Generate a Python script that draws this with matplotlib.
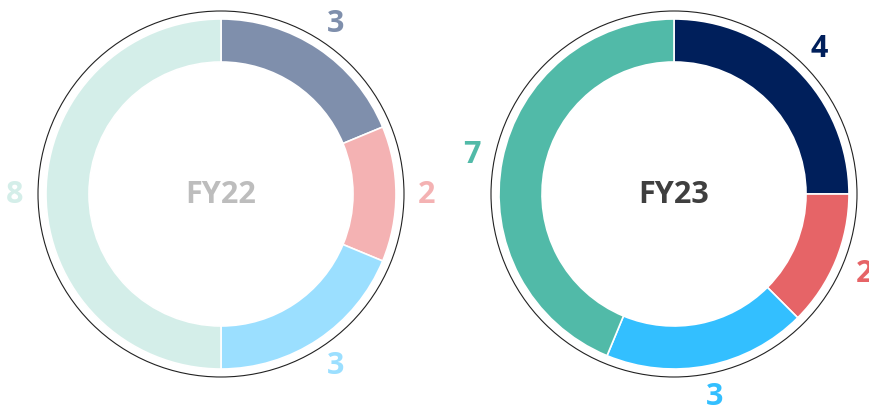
import numpy as np
import matplotlib
matplotlib.use("Agg")
import matplotlib.pyplot as plt
from matplotlib.patches import Circle

plt.rcParams["font.family"] = ["Open Sans", "DejaVu Sans"]

# ---- data ----
years = ["FY22", "FY23"]
fy22_values = [3, 2, 3, 8]
fy23_values = [4, 2, 3, 7]
fy22_colors = ["#7F8FAC", "#F4B2B3", "#9BDFFF", "#D4EEE9"]
fy23_colors = ["#001F5B", "#E66467", "#33BFFF", "#51BAA8"]
title_colors = ["#BDBDBD", "#3F3F3F"]

# layout in pixels (figure is 869 x 410)
W, H = 869, 410
centers = [(221, H - 195), (674, H - 195)]
R = 175
RING = 43
R_OUTLINE = 183
R_LABEL = 206

fig = plt.figure(figsize=(W / 100, H / 100), dpi=100)
ax = fig.add_axes([0, 0, 1, 1])

for name, vals, cols, tcol, c in zip(years, [fy22_values, fy23_values],
                                     [fy22_colors, fy23_colors], title_colors, centers):
    wedges, _ = ax.pie(vals, colors=cols, startangle=90, counterclock=False,
                       center=c, radius=R,
                       wedgeprops=dict(width=RING, edgecolor="white", linewidth=1.2))
    ax.add_patch(Circle(c, R_OUTLINE, fill=False, edgecolor="#222222", linewidth=0.8))
    for w, v, col in zip(wedges, vals, cols):
        mid = np.deg2rad((w.theta1 + w.theta2) / 2)
        ax.text(c[0] + R_LABEL * np.cos(mid), c[1] + R_LABEL * np.sin(mid), str(v),
                ha="center", va="center", fontsize=22, fontweight="bold", color=col)
    ax.text(c[0], c[1], name, ha="center", va="center", fontsize=22,
            fontweight="bold", color=tcol)

ax.set_xlim(0, W)
ax.set_ylim(0, H)
ax.set_aspect("equal")
ax.axis("off")

fig.savefig("out.png", dpi=100, facecolor="white")
